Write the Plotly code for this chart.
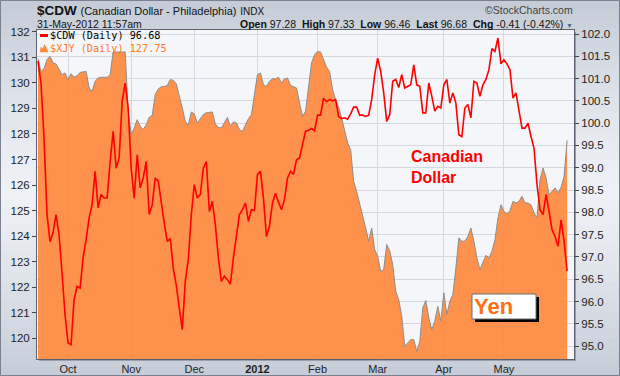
import pandas as pd
import plotly.graph_objects as go

# ---------------- data ----------------
HOLIDAYS = ["2011-11-24", "2011-12-26", "2012-01-02", "2012-01-16",
            "2012-02-20", "2012-04-06", "2012-05-28"]
dates = pd.bdate_range("2011-09-19", "2012-05-31", freq="C",
                       holidays=HOLIDAYS).strftime("%Y-%m-%d").tolist()

# $CDW Canadian Dollar (right axis)
cdw = [101.39, 100.90, 99.67, 97.95, 97.34, 97.54, 97.95, 97.50, 96.64, 95.70,
       95.07, 95.03, 96.04, 96.34, 96.30, 96.98, 97.39, 97.87, 98.17, 98.92,
       98.10, 98.40, 98.32, 98.32, 99.14, 99.82, 98.99, 99.22, 100.49, 100.90,
       100.34, 98.99, 98.32, 99.29, 98.55, 98.77, 99.14, 97.95, 98.17, 98.77,
       98.70, 98.17, 97.76, 97.35, 97.41, 96.75, 96.36, 95.85, 95.37, 96.45,
       96.94, 97.95, 98.62, 98.32, 98.40, 98.99, 99.14, 98.02, 98.25, 97.72,
       96.98, 96.45, 96.57, 96.49, 96.39, 96.98, 97.50, 97.95, 98.06, 98.21,
       97.80, 98.06, 98.04, 98.85, 98.92, 98.32, 97.46, 97.69, 98.21, 98.43,
       98.23, 98.06, 98.29, 98.77, 98.92, 98.85, 99.18, 99.22, 99.52, 99.82,
       99.84, 99.88, 99.83, 100.18, 100.18, 100.56, 100.48, 100.53, 100.50, 100.53,
       100.15, 100.10, 100.12, 100.09, 100.21, 100.36, 100.36, 100.18, 100.18, 100.15,
       100.18, 100.53, 101.09, 101.46, 101.16, 100.68, 100.04, 100.19, 100.94, 100.98,
       100.80, 101.09, 100.79, 100.83, 100.86, 101.31, 100.86, 100.83, 100.23, 100.23,
       100.90, 100.60, 100.27, 100.38, 100.34, 100.86, 100.98, 100.45, 100.68, 100.45,
       99.74, 99.70, 100.34, 100.42, 100.12, 100.94, 100.90, 100.60, 100.86, 100.98,
       101.20, 101.67, 101.61, 101.91, 101.33, 101.42, 101.33, 101.20, 100.56, 100.68,
       100.30, 99.89, 99.89, 100.00, 99.70, 99.44, 98.62, 98.06, 97.95, 98.40,
       98.02, 97.61, 97.46, 97.24, 97.83, 97.35, 96.68]

# $XJY Yen (left axis)
xjy = [130.95, 130.45, 130.56, 130.91, 131.04, 130.78, 130.74, 130.52, 130.32, 130.39,
       130.13, 130.36, 130.22, 130.28, 130.41, 130.43, 130.45, 129.80, 129.67, 130.06,
       130.19, 130.22, 130.22, 130.22, 130.32, 131.21, 131.21, 131.21, 131.21, 131.21,
       128.89, 127.97, 128.23, 128.56, 128.30, 128.17, 128.36, 128.65, 128.73, 129.54,
       129.76, 129.85, 129.86, 129.90, 130.13, 130.10, 129.96, 129.54, 129.02, 128.49,
       128.34, 128.86, 128.78, 128.43, 128.60, 128.76, 128.83, 128.86, 128.86, 128.39,
       128.26, 128.23, 128.47, 128.65, 128.30, 128.47, 128.43, 128.17, 128.10, 128.34,
       128.60, 128.76, 129.60, 130.32, 130.39, 129.93, 129.86, 130.06, 130.16, 130.16,
       130.22, 130.00, 130.16, 130.19, 129.90, 129.84, 129.80, 129.21, 128.69, 128.89,
       129.93, 130.78, 131.10, 131.23, 131.21, 130.91, 130.61, 130.45, 129.73, 129.34,
       129.06, 128.62, 128.13, 127.65, 127.39, 126.15, 125.75, 125.30, 124.78, 124.32,
       123.80, 124.32, 123.47, 123.21, 122.62, 122.69, 123.67, 123.43, 122.88, 121.84,
       121.51, 120.86, 119.69, 119.82, 119.95, 119.95, 119.49, 119.88, 121.19, 121.48,
       120.80, 120.34, 120.67, 121.25, 120.67, 121.78, 120.93, 121.45, 121.71, 122.75,
       123.93, 123.80, 123.80, 123.99, 124.32, 123.80, 123.15, 122.69, 122.95, 123.25,
       123.15, 123.41, 123.86, 124.71, 125.23, 124.97, 124.87, 125.00, 125.36, 125.30,
       125.36, 125.56, 125.30, 125.30, 125.23, 124.91, 124.71, 126.21, 126.67, 126.28,
       125.62, 125.75, 125.89, 125.69, 125.91, 126.34, 127.75]

MONTH_TICKS = ["2011-10-03", "2011-11-01", "2011-12-01", "2012-01-03",
               "2012-02-01", "2012-03-01", "2012-04-02", "2012-05-01"]
MONTH_LABELS = ["Oct", "Nov", "Dec", "<b>2012</b>", "Feb", "Mar", "Apr", "May"]
YEN_TICKS = list(range(120, 133))
CAD_TICKS = [95.0, 95.5, 96.0, 96.5, 97.0, 97.5, 98.0, 98.5, 99.0, 99.5,
             100.0, 100.5, 101.0, 101.5, 102.0]
CAD_LABELS = [f"{v:.1f}" for v in CAD_TICKS]

# ---------------- layout helpers ----------------
W, H = 620, 376
L, R, T, B = 37, 46, 30, 17
PW, PH = W - L - R, H - T - B


def px(x):
    return (x - L) / PW


def py(y):
    return (H - B - y) / PH


FONT = "Liberation Sans, Arial, sans-serif"
MONO = "DejaVu Sans Mono, monospace"

fig = go.Figure()
fig.add_trace(go.Scatter(
    x=dates, y=xjy, yaxis="y", mode="lines", fill="tozeroy",
    fillcolor="rgba(255,134,56,0.9)", line=dict(color="#8e8e8e", width=1),
    hoverinfo="skip", showlegend=False))
fig.add_trace(go.Scatter(
    x=dates, y=cdw, yaxis="y2", mode="lines",
    line=dict(color="#ff0000", width=1.6), hoverinfo="skip", showlegend=False))

shapes = []
# background vertical gradient bands
N = 40
light = (238, 241, 246)
dark = (196, 203, 214)
mid = 190.0
for k in range(N):
    y0 = k * H / N
    y1 = (k + 1) * H / N + 0.6
    yc = (y0 + y1) / 2
    t = min(1.0, abs(yc - mid) / mid) ** 1.3
    c = tuple(int(round(light[j] + (dark[j] - light[j]) * t)) for j in range(3))
    shapes.append(dict(type="rect", xref="paper", yref="paper", layer="below",
                       x0=px(0), x1=px(W), y0=py(y1), y1=py(y0),
                       fillcolor=f"rgb{c}", line=dict(width=0)))
# plot shadow + plot background
shapes.append(dict(type="rect", xref="paper", yref="paper", layer="below",
                   x0=px(L + 2), x1=px(W - R + 2), y0=py(H - B + 2), y1=py(T + 2),
                   fillcolor="#9aa0ab", line=dict(width=0)))
shapes.append(dict(type="rect", xref="paper", yref="paper", layer="below",
                   x0=0, x1=1, y0=0, y1=1, fillcolor="#f5f6fa", line=dict(width=0)))
# outer frame
shapes.append(dict(type="rect", xref="paper", yref="paper", layer="above",
                   x0=px(0.5), x1=px(W - 0.5), y0=py(H - 0.5), y1=py(0.5),
                   line=dict(color="#7a8292", width=1)))
# legend red dash
shapes.append(dict(type="line", xref="paper", yref="paper",
                   x0=px(40), x1=px(48), y0=py(35.5), y1=py(35.5),
                   line=dict(color="#ff0000", width=3)))
# legend orange mountain icon
pts = [(40, 52), (41, 47), (42.5, 49), (44.5, 44.5), (46.5, 48), (48, 52)]
path = "M " + " L ".join(f"{px(a):.5f},{py(b):.5f}" for a, b in pts) + " Z"
shapes.append(dict(type="path", xref="paper", yref="paper", path=path,
                   fillcolor="#ff8a3c", line=dict(color="#ff8a3c", width=0.5)))
# Yen box shadow and box
shapes.append(dict(type="rect", xref="paper", yref="paper",
                   x0=px(475), x1=px(539), y0=py(322), y1=py(297),
                   fillcolor="#000000", line=dict(width=0)))
shapes.append(dict(type="rect", xref="paper", yref="paper",
                   x0=px(472), x1=px(536), y0=py(319), y1=py(294),
                   fillcolor="#ffffff", line=dict(color="#6e6e6e", width=1)))

ann = []
ann.append(dict(x=px(36), y=py(10.5), xref="paper", yref="paper", xanchor="left",
                yanchor="middle", showarrow=False, borderpad=0,
                text="<b>$CDW</b> <span style='font-size:11px'>(Canadian Dollar - Philadelphia)</span>"
                     " <span style='font-size:10px'>INDX</span>",
                font=dict(family=FONT, size=13.5, color="#111111")))
ann.append(dict(x=px(574), y=py(10.5), xref="paper", yref="paper", xanchor="right",
                yanchor="middle", showarrow=False, borderpad=0, text="©StockCharts.com",
                font=dict(family=FONT, size=10.5, color="#444444")))
ann.append(dict(x=px(36), y=py(24.5), xref="paper", yref="paper", xanchor="left",
                yanchor="middle", showarrow=False, borderpad=0, text="31-May-2012 11:57am",
                font=dict(family=FONT, size=10.5, color="#111111")))
ann.append(dict(x=px(564), y=py(24.5), xref="paper", yref="paper", xanchor="right",
                yanchor="middle", showarrow=False, borderpad=0,
                text="<b>Open</b> 97.28  <b>High</b> 97.33  <b>Low</b> 96.46  "
                     "<b>Last</b> 96.68  <b>Chg</b> -0.41 (-0.42%)",
                font=dict(family=FONT, size=10.5, color="#111111")))
ann.append(dict(x=px(569), y=py(25), xref="paper", yref="paper", xanchor="center",
                yanchor="middle", showarrow=False, borderpad=0, text="▼",
                font=dict(family=FONT, size=7, color="#4a6a9a")))
ann.append(dict(x=px(49), y=py(29.5), xref="paper", yref="paper", xanchor="left",
                yanchor="top", showarrow=False, align="left", borderpad=0,
                text="<span style='color:#000000'>$CDW (Daily) 96.68</span><br>"
                     "<span style='color:#ff7a22'>$XJY (Daily) 127.75</span>",
                font=dict(family=MONO, size=10.2, color="#000000")))
ann.append(dict(x=px(409), y=py(146), xref="paper", yref="paper", xanchor="left",
                yanchor="top", showarrow=False, align="left",
                text="<b>Canadian<br>Dollar</b>",
                font=dict(family=FONT, size=16, color="#ff0000")))
ann.append(dict(x=px(472), y=py(306.5), xref="paper", yref="paper", xanchor="left",
                yanchor="middle", showarrow=False, text="<b>Yen</b>",
                font=dict(family=FONT, size=22, color="#ff7015")))

GRID = "#d6d8df"
AX = "#5b6170"
fig.update_layout(
    width=W, height=H,
    margin=dict(l=L, r=R, t=T, b=B, pad=0, autoexpand=False),
    paper_bgcolor="rgb(220,225,233)",
    plot_bgcolor="rgba(0,0,0,0)",
    showlegend=False,
    hovermode=False,
    shapes=shapes,
    annotations=ann,
    xaxis=dict(type="category", range=[-0.33, 178.3], tickvals=MONTH_TICKS,
               ticktext=MONTH_LABELS, showgrid=True, gridcolor=GRID, gridwidth=1,
               ticks="", showline=True, linecolor=AX, linewidth=1, mirror=True,
               zeroline=False, automargin=False,
               tickfont=dict(family=FONT, size=11, color="#222222")),
    yaxis=dict(range=[119.19, 132.07], tickvals=YEN_TICKS, showgrid=False,
               ticks="outside", ticklen=4, tickcolor="#444444", showline=True,
               linecolor=AX, linewidth=1, mirror=True, zeroline=False,
               automargin=False,
               tickfont=dict(family=FONT, size=11.5, color="#222222")),
    yaxis2=dict(range=[94.71, 102.09], overlaying="y", side="right",
                tickvals=CAD_TICKS, ticktext=CAD_LABELS, showgrid=True,
                gridcolor=GRID, gridwidth=1, ticks="outside", ticklen=4,
                tickcolor="#444444", showline=False, zeroline=False,
                automargin=False,
                tickfont=dict(family=FONT, size=11.5, color="#222222")),
)

fig.write_html(
    "out.html",
    config={"displayModeBar": False, "staticPlot": True},
    post_script="document.body.style.margin='0';document.body.style.padding='0';"
                "document.documentElement.style.overflow='hidden';",
)
